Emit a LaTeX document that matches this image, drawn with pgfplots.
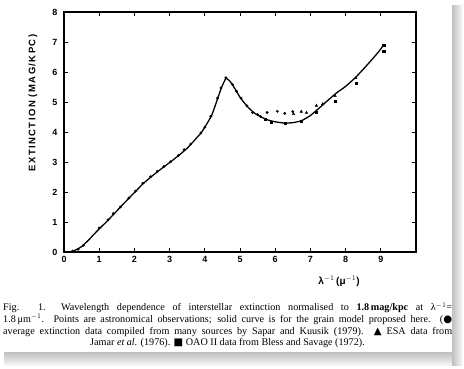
\documentclass[border=0pt]{standalone}
\usepackage{fontspec}
\setmainfont{Liberation Serif}
\setsansfont{Liberation Sans}
\newfontfamily\symfont{DejaVu Sans}
\newfontfamily\lblfont[LetterSpace=15]{Liberation Sans Bold}
\usepackage{pgfplots}
\pgfplotsset{compat=1.18}
\begin{document}
\begin{tikzpicture}[x=1bp,y=1bp]
\path[use as bounding box] (0,0) rectangle (464,368);
\fill[white] (0,0) rectangle (464,368);
\shade[top color=gray!50, bottom color=gray!8] (4,3) rectangle (460,16);
\shade[left color=gray!50, right color=gray!8] (452,3) rectangle (462,362);
\fill[white] (0,16) rectangle (452,368);
\begin{axis}[at={(64bp,116bp)}, anchor=south west, scale only axis,
  width=352bp, height=240bp,
  xmin=0, xmax=10, ymin=0, ymax=8,
  xtick={0,1,2,3,4,5,6,7,8,9,10},
  xticklabels={0,1,2,3,4,5,6,7,8,9,{}},
  ytick={0,1,2,3,4,5,6,7,8},
  tick align=inside, major tick length=4bp,
  axis line style={line width=1.1pt},
  every tick/.style={line width=1pt, black},
  /pgf/number format/assume math mode=true,
  ticklabel style={font=\sffamily\bfseries\fontsize{9}{10}\selectfont},
  xticklabel style={yshift=-1bp},
  yticklabel style={xshift=-3bp},
  clip=false]
\addplot[black, line width=1.3pt, smooth, tension=0.35] coordinates {
(0.15,0.0) (0.3,0.05) (0.5,0.18) (0.7,0.40) (0.85,0.59) (1.0,0.77)
(1.25,1.06) (1.5,1.37) (1.75,1.68) (2.0,1.98) (2.25,2.28) (2.5,2.53)
(2.75,2.76) (3.0,2.98) (3.25,3.21) (3.5,3.46) (3.75,3.78) (3.9,3.98)
(4.0,4.16) (4.2,4.57) (4.36,5.10) (4.48,5.50) (4.6,5.80)
};
\addplot[black, line width=1.3pt, smooth, tension=0.35] coordinates {
(4.6,5.80) (4.7,5.71) (4.8,5.55) (5.0,5.16) (5.2,4.86) (5.4,4.64)
(5.6,4.50) (5.8,4.40) (6.0,4.34) (6.25,4.30) (6.5,4.31) (6.75,4.38)
(7.0,4.55) (7.25,4.80) (7.5,5.06) (7.75,5.31) (8.0,5.52) (8.3,5.84)
(8.6,6.22) (8.9,6.62) (9.05,6.85)
};
% Sapar and Kuusik averages (circles)
\addplot[only marks, mark=*, mark size=1.2pt, black] coordinates {
(0.25,0.03) (0.4,0.09) (0.55,0.22) (1.0,0.80) (1.25,1.07) (1.4,1.28)
(1.6,1.50) (1.84,1.80) (2.03,2.03) (2.24,2.29) (2.46,2.51) (2.65,2.69)
(2.84,2.85) (3.03,3.01) (3.25,3.22) (3.41,3.41) (3.6,3.60) (3.89,3.97)
(4.0,4.16) (4.17,4.52) (4.36,5.13) (4.46,5.47) (4.6,5.81) (4.79,5.58)
(4.9,5.36) (5.03,5.13) (5.2,4.87) (5.36,4.65) (5.5,4.58) (5.58,4.52)
(5.77,4.65) (6.06,4.69) (6.27,4.62) (6.5,4.68)
};
% ESA (triangles)
\addplot[only marks, mark=triangle*, mark size=1.5pt, black] coordinates {
(6.52,4.60) (6.74,4.68) (6.89,4.64) (7.17,4.88) (7.35,4.93) (7.7,5.20)
(8.29,5.80)
};
% OAO II (squares)
\addplot[only marks, mark=square*, mark size=1.1pt, black] coordinates {
(5.71,4.42) (5.89,4.34) (6.29,4.28) (6.74,4.36) (7.17,4.66) (7.71,5.03)
(8.31,5.62) (9.08,6.68) (9.08,6.90)
};
\end{axis}
\node[rotate=90, font=\lblfont\fontsize{9.5}{10}\selectfont] at (33,265) {EXTINCTION (MAG/KPC)};
\node[font=\sffamily\bfseries\fontsize{10}{11}\selectfont] at (339,87) {λ$^{-1}$\,(μ$^{-1}$)};
\begin{scope}[font=\fontsize{10.2}{11}\selectfont]
\node[anchor=base west, inner sep=0] at (3,57.3) {\makebox[449bp][s]{Fig. 1.\ \ Wavelength dependence of interstellar extinction normalised to {\bfseries 1.8\,mag/kpc} at λ$^{-1}$=}};
\node[anchor=base west, inner sep=0] at (3,45.7) {\makebox[449bp][s]{1.8\,μm$^{-1}$. Points are astronomical observations; solid curve is for the grain model proposed here. ({\symfont ●}}};
\node[anchor=base west, inner sep=0] at (3,34) {\makebox[449bp][s]{average extinction data compiled from many sources by Sapar and Kuusik (1979). {\symfont ▲} ESA data from}};
\node[anchor=base, inner sep=0] at (227.5,22.3) {Jamar \textit{et al.} (1976). {\symfont ■} OAO II data from Bless and Savage (1972).};
\end{scope}
\end{tikzpicture}
\end{document}
